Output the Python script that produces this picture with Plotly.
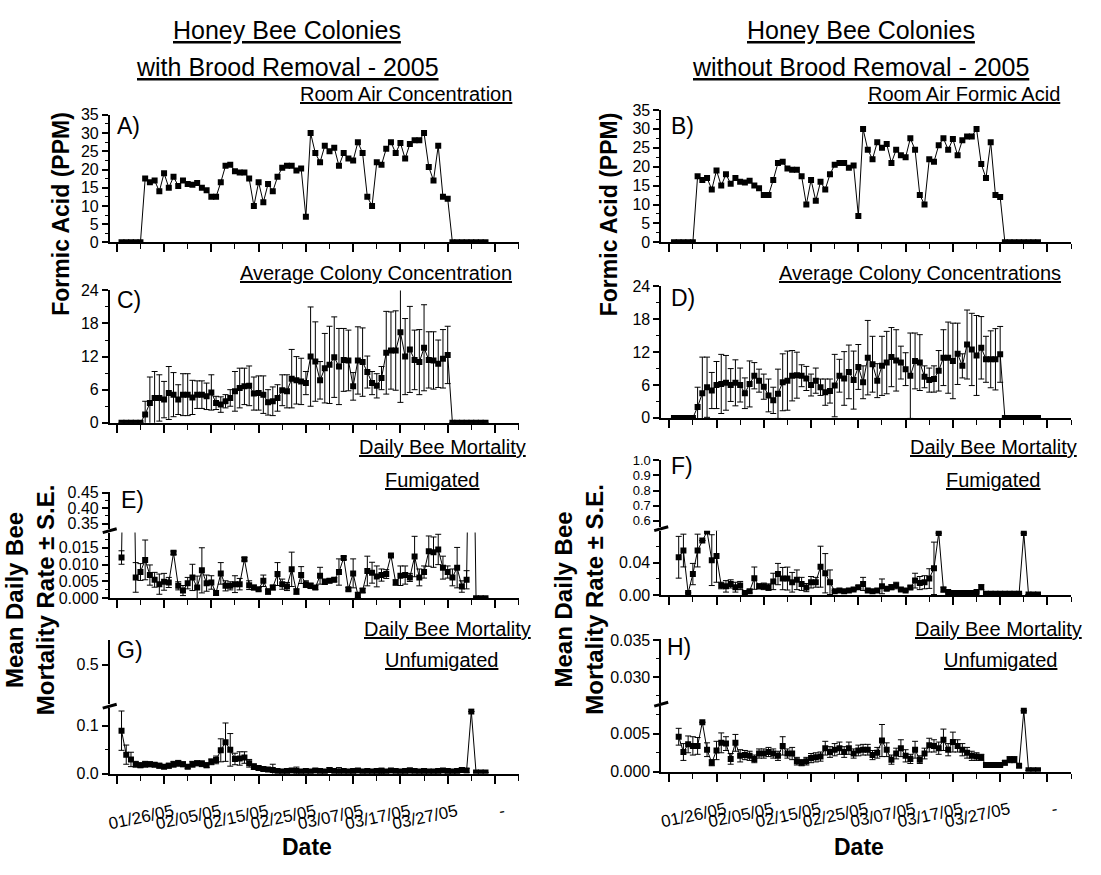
import plotly.graph_objects as go

W, H = 1101, 875
FONT = "Liberation Sans, Arial, sans-serif"

# ---------------- data (x = day number, day 0 = 01/16/05) ----------------
room_air = [0, 0, 0, 0, 0,
            17.5, 16.5, 17, 14, 19, 15, 18, 15.5, 17, 16,
            15.8, 16.3, 15, 14.3, 12.5, 12.5, 16.5, 21, 21.3, 19.5,
            19.2, 19.2, 17.5, 10, 16.5, 11, 16, 14, 18, 20.5,
            21, 21, 19.7, 20.3, 7, 30, 24.5, 22, 26.5, 25,
            26, 21, 24.5, 23, 22.5, 27.5, 24.5, 12.5, 10, 22,
            21.3, 25.7, 27.5, 24.5, 27.3, 23, 27, 28, 28, 30,
            20.7, 17, 26.5, 12.5, 12,
            0, 0, 0, 0, 0, 0, 0, 0]

colony_br = [0, 0, 0, 0, 0,
             1.5, 3.6, 4.5, 4.5, 4.2, 5.4, 5.1, 4.2, 5.1, 5.1,
             4.6, 5.1, 5.1, 4.8, 5.5, 3.6, 3.3, 3.9, 4.5, 5.7,
             6.3, 6.6, 6.7, 5.3, 5.4, 5.1, 3.7, 3.9, 4.5, 5.9,
             5.7, 8.0, 7.7, 7.5, 7.2, 12.0, 11.1, 7.7, 9.9, 10.5,
             11.9, 10.2, 11.4, 11.3, 6.6, 11.3, 11.0, 9.2, 7.2, 6.7,
             8.1, 12.7, 13.1, 13.1, 16.4, 12.0, 13.3, 11.4, 11.0, 13.6,
             11.4, 11.3, 10.7, 11.6, 12.3,
             0, 0, 0, 0, 0, 0, 0, 0]
colony_br_se = [0, 0, 0, 0, 0,
                2.4, 4.7, 4.8, 4.2, 3.3, 4.8, 4.0, 2.7, 3.8, 3.8,
                3.1, 2.5, 2.5, 2.4, 3.2, 1.2, 1.4, 1.2, 1.5, 3.6,
                3.6, 3.3, 3.6, 3.0, 3.1, 3.4, 2.3, 2.6, 2.4, 2.8,
                3.0, 5.3, 4.3, 4.2, 2.1, 9.0, 7.2, 3.4, 6.3, 7.0,
                7.3, 6.9, 5.7, 5.5, 2.5, 6.1, 6.2, 2.9, 2.1, 2.2,
                2.1, 7.5, 7.0, 7.2, 12.7, 6.9, 7.8, 5.4, 5.9, 7.8,
                5.1, 5.2, 4.3, 5.3, 5.2,
                0, 0, 0, 0, 0, 0, 0, 0]

colony_nb = [0, 0, 0, 0, 0,
             2.0, 4.5, 5.6, 5.0, 6.0, 6.2, 6.4, 6.0, 6.4, 6.0,
             4.5, 6.2, 7.7, 6.8, 5.7, 4.1, 3.2, 4.4, 6.5, 6.8,
             7.7, 7.8, 7.7, 7.2, 6.0, 6.8, 5.6, 4.7, 4.9, 5.9,
             7.7, 7.2, 8.4, 6.9, 9.3, 6.5, 11.0, 9.8, 6.8, 9.5,
             10.1, 11.1, 10.5, 10.1, 8.9, 7.7, 10.4, 10.1, 7.5, 6.9,
             7.1, 8.6, 11.0, 11.0, 10.4, 11.7, 9.5, 13.4, 12.5, 11.4,
             12.8, 10.7, 10.7, 10.7, 11.6,
             0, 0, 0, 0, 0, 0, 0, 0]
colony_nb_se = [0, 0, 0, 0, 0,
                3.6, 6.6, 5.5, 3.3, 4.3, 5.4, 5.0, 3.0, 4.2, 3.1,
                2.8, 4.2, 2.4, 2.1, 2.3, 3.0, 2.4, 4.5, 5.2, 5.4,
                4.6, 4.2, 2.0, 2.2, 2.0, 2.3, 1.5, 2.4, 2.2, 5.7,
                3.0, 4.9, 4.9, 5.3, 4.1, 3.0, 6.8, 5.1, 3.1, 5.4,
                5.7, 5.4, 5.6, 3.0, 3.0, 7.8, 5.1, 5.1, 2.0, 2.2,
                2.4, 3.7, 5.1, 6.5, 6.9, 5.6, 2.2, 6.3, 6.6, 7.3,
                5.7, 4.2, 5.2, 5.6, 5.1,
                0, 0, 0, 0, 0, 0, 0, 0]

# mortality, brood removal, fumigated (from day 1)
mort_br_fum = [0.0121, 0.1, 0.1, 0.0062, 0.0078, 0.0114, 0.0069, 0.0055, 0.0042, 0.0049,
               0.0047, 0.0135, 0.0037, 0.0023, 0.0045, 0.0062, 0.0032, 0.0083, 0.0045, 0.0047,
               0.0016, 0.0074, 0.0037, 0.0037, 0.0042, 0.0042, 0.0116, 0.0039, 0.0032, 0.0027,
               0.0052, 0.0020, 0.0032, 0.0072, 0.0042, 0.0035, 0.0086, 0.0020, 0.0069, 0.0042,
               0.0037, 0.0032, 0.0067, 0.0049, 0.0052, 0.0055, 0.0078, 0.0120, 0.0027, 0.0074,
               0.0010, 0.0023, 0.0081, 0.0076, 0.0065, 0.0069, 0.0072, 0.0127, 0.0047, 0.0067,
               0.0069, 0.0062, 0.0124, 0.0062, 0.0078, 0.0140, 0.0137, 0.0145, 0.0091, 0.0078,
               0.0062, 0.0091, 0.0035, 0.0055, 0.1, 0, 0, 0]
mort_br_fum_se = [0.0020, 0, 0, 0.0044, 0.0025, 0.0059, 0.0030, 0.0022, 0.0030, 0.0025,
                  0.0015, 0.0005, 0.0012, 0.0015, 0.0017, 0.0039, 0.0034, 0.0067, 0.0024, 0.0020,
                  0.0007, 0.0032, 0.0015, 0.0012, 0.0025, 0.0017, 0.0005, 0.0013, 0.0007, 0.0005,
                  0.0017, 0.0008, 0.0007, 0.0034, 0.0015, 0.0012, 0.0051, 0.0008, 0.0025, 0.0010,
                  0.0008, 0.0006, 0.0025, 0.0008, 0.0006, 0.0006, 0.0039, 0.0005, 0.0005, 0.0043,
                  0.0008, 0.0006, 0.0044, 0.0031, 0.0031, 0.0018, 0.0013, 0.0003, 0.0008, 0.0029,
                  0.0027, 0.0012, 0.0060, 0.0025, 0.0018, 0.0045, 0.0045, 0.0045, 0.0034, 0.0018,
                  0.0025, 0.0060, 0.0017, 0.0027, 0, 0, 0, 0]

# mortality, brood removal, unfumigated (from day 1)
mort_br_unf = [0.090, 0.040, 0.030, 0.020, 0.018, 0.020, 0.020, 0.019, 0.017, 0.015,
               0.017, 0.020, 0.022, 0.020, 0.015, 0.020, 0.022, 0.021, 0.018, 0.025,
               0.029, 0.049, 0.066, 0.050, 0.031, 0.032, 0.034, 0.022, 0.015, 0.012,
               0.010, 0.009, 0.008, 0.006, 0.005, 0.006, 0.007, 0.006, 0.005, 0.006,
               0.005, 0.007, 0.006, 0.005, 0.008, 0.006, 0.005, 0.006, 0.005, 0.006,
               0.007, 0.005, 0.006, 0.005, 0.006, 0.006, 0.005, 0.007, 0.006, 0.005,
               0.006, 0.007, 0.006, 0.005, 0.006, 0.005, 0.005, 0.006, 0.007, 0.006,
               0.005, 0.006, 0.008, 0.007, 0.130, 0.003, 0.003, 0.003]
mort_br_unf_se = [0.041, 0.020, 0.015, 0.006, 0.005, 0.006, 0.005, 0.004, 0.005, 0.004,
                  0.005, 0.006, 0.006, 0.005, 0.004, 0.006, 0.005, 0.006, 0.005, 0.006,
                  0.008, 0.024, 0.040, 0.034, 0.012, 0.014, 0.012, 0.008, 0.006, 0.004,
                  0.004, 0.003, 0.012, 0.003, 0.003, 0.004, 0.003, 0.008, 0.003, 0.003,
                  0.003, 0.004, 0.003, 0.003, 0.005, 0.003, 0.008, 0.003, 0.003, 0.004,
                  0.004, 0.003, 0.003, 0.003, 0.004, 0.006, 0.003, 0.004, 0.003, 0.003,
                  0.004, 0.005, 0.003, 0.003, 0.004, 0.003, 0.003, 0.004, 0.004, 0.004,
                  0.003, 0.004, 0.005, 0.004, 0, 0, 0, 0]

# mortality, no brood removal, fumigated (from day 2)
mort_nb_fum = [0.0465, 0.0547, 0.003, 0.026, 0.0547, 0.067, 0.078, 0.043, 0.048,
               0.012, 0.011, 0.014, 0.010, 0.012, 0.003, 0.005, 0.021, 0.011, 0.011,
               0.010, 0.017, 0.026, 0.0205, 0.0205, 0.016, 0.019, 0.014, 0.0095, 0.016,
               0.016, 0.035, 0.027, 0.016, 0.005, 0.006, 0.005, 0.006, 0.007, 0.010,
               0.014, 0.006, 0.005, 0.006, 0.011, 0.008, 0.010, 0.012, 0.007, 0.006,
               0.0095, 0.018, 0.015, 0.016, 0.0205, 0.033, 0.076, 0.007, 0.004, 0.003,
               0.003, 0.003, 0.003, 0.003, 0.004, 0.010, 0.002, 0.002, 0.002, 0.002,
               0.002, 0.002, 0.002, 0.002, 0.076, 0.001, 0.001, 0.001]
mort_nb_fum_se = [0.0255, 0.020, 0, 0.013, 0.020, 0, 0, 0.031, 0.032,
                  0.004, 0.007, 0.005, 0.006, 0.005, 0.001, 0.002, 0.0136, 0.003, 0.004,
                  0.004, 0.010, 0.013, 0.0136, 0.014, 0.012, 0.012, 0.008, 0.005, 0.007,
                  0.006, 0.025, 0.024, 0.015, 0.001, 0.001, 0.001, 0.001, 0.001, 0.002,
                  0.008, 0.001, 0.001, 0.001, 0.009, 0.002, 0.003, 0.004, 0.001, 0.001,
                  0.002, 0.009, 0.008, 0.008, 0.012, 0.032, 0, 0.003, 0.001, 0.001,
                  0.001, 0.001, 0.001, 0.001, 0.001, 0.003, 0.0005, 0.0005, 0.0005, 0.0005,
                  0.0005, 0.0005, 0.0005, 0.0005, 0, 0, 0, 0]

# mortality, no brood removal, unfumigated (from day 2)
mort_nb_unf = [0.0046, 0.0026, 0.0036, 0.0034, 0.0034, 0.0065, 0.0029, 0.0012, 0.0028,
               0.0038, 0.0037, 0.0017, 0.0038, 0.0021, 0.0022, 0.0021, 0.0017, 0.0024, 0.0024,
               0.0026, 0.0024, 0.0021, 0.0034, 0.0024, 0.0024, 0.0014, 0.0012, 0.0014, 0.0018,
               0.0019, 0.0020, 0.0031, 0.0026, 0.0029, 0.0031, 0.0026, 0.0031, 0.0024, 0.0028,
               0.0029, 0.0029, 0.0022, 0.0025, 0.0041, 0.0029, 0.0016, 0.0024, 0.0031, 0.0021,
               0.0017, 0.0029, 0.0016, 0.0024, 0.0035, 0.0034, 0.0031, 0.0042, 0.0029, 0.0039,
               0.0034, 0.0029, 0.0025, 0.0021, 0.0020, 0.0019, 0.0009, 0.0009, 0.0009, 0.0009,
               0.0012, 0.0016, 0.0016, 0.0008, 0.0080, 0.0002, 0.0002, 0.0002]
mort_nb_unf_se = [0.0011, 0.0011, 0.0011, 0.0012, 0.0011, 0, 0.0009, 0.0004, 0.0012,
                  0.0013, 0.0009, 0.0007, 0.0011, 0.0008, 0.0006, 0.0006, 0.0005, 0.0006, 0.0006,
                  0.0006, 0.0006, 0.0006, 0.0012, 0.0006, 0.0008, 0.0005, 0.0004, 0.0005, 0.0006,
                  0.0006, 0.0006, 0.0009, 0.0007, 0.0008, 0.0008, 0.0007, 0.0008, 0.0006, 0.0007,
                  0.0007, 0.0007, 0.0006, 0.0007, 0.0021, 0.0009, 0.0006, 0.0007, 0.0011, 0.0008,
                  0.0006, 0.0011, 0.0005, 0.0007, 0.0009, 0.0008, 0.0008, 0.0014, 0.0008, 0.0013,
                  0.0008, 0.0008, 0.0007, 0.0006, 0.0005, 0.0004, 0.0002, 0.0002, 0.0002, 0.0002,
                  0.0003, 0.0004, 0.0004, 0.0002, 0, 0, 0, 0]

date_tickvals = [0, 10, 20, 30, 40, 50, 60, 70, 80]
date_ticktext = ["", "01/26/05", "02/05/05", "02/15/05", "02/25/05",
                 "03/07/05", "03/17/05", "03/27/05", "-"]

# ---------------- helpers ----------------
def fx(px):
    return px / W

def fy(py):
    return 1 - py / H

def days(start, vals):
    return list(range(start, start + len(vals)))

fig = go.Figure()

def add_series(xa, ya, x, y, err=None):
    fig.add_trace(go.Scatter(
        x=x, y=y, xaxis=xa, yaxis=ya, mode="lines+markers",
        line=dict(color="black", width=1),
        marker=dict(symbol="square", size=6, color="black"),
        error_y=dict(type="data", array=err if err is not None else [],
                     visible=err is not None, color="black", thickness=1, width=3),
        showlegend=False, hoverinfo="skip"))

# column x-domains (pixels)
COLX = [(107, 517), (660, 1071)]
XRANGE = [[-1.5, 85], [-1.7, 85]]

layout = dict(width=W, height=H, margin=dict(l=0, r=0, t=0, b=0),
              paper_bgcolor="white", plot_bgcolor="white",
              font=dict(family=FONT, color="black"))

def xaxis_def(col, yanchor, bottom_row):
    d = dict(domain=[fx(COLX[col][0]), fx(COLX[col][1])], range=XRANGE[col],
             anchor=yanchor, showline=True, linecolor="black", linewidth=1.5,
             ticks="outside", ticklen=8, tickwidth=1.5, tickcolor="black",
             tickmode="array", tickvals=date_tickvals, showgrid=False, zeroline=False,
             minor=dict(tickmode="array", tickvals=[5, 15, 25, 35, 45, 55, 65, 75, 85],
                        ticks="outside", ticklen=5, tickwidth=1.2, tickcolor="black"))
    if bottom_row:
        d.update(ticktext=date_ticktext, showticklabels=True, tickangle=-12,
                 ticklabelstandoff=12, ticklabelshift=9,
                 tickfont=dict(size=17, family=FONT))
    else:
        d.update(showticklabels=False)
    return d

def yaxis_def(col, xanchor, top, bot, rng, dtick, tick0, fmt, minor_dtick, fsize=16):
    d = dict(domain=[fy(bot), fy(top)], range=rng, anchor=xanchor,
             showline=True, linecolor="black", linewidth=1.5,
             ticks="outside", ticklen=6, tickwidth=1.5, tickcolor="black",
             dtick=dtick, tick0=tick0, tickformat=fmt, showgrid=False, zeroline=False,
             tickfont=dict(size=fsize, family=FONT))
    if minor_dtick:
        d["minor"] = dict(dtick=minor_dtick, tick0=tick0, ticks="outside", ticklen=3,
                          tickwidth=1.2, tickcolor="black")
    return d

# Panel A / B (row 1)
layout["xaxis"] = xaxis_def(0, "y", False)
layout["yaxis"] = yaxis_def(0, "x", 109, 239, [0, 35], 5, 0, "d", 2.5)
layout["xaxis2"] = xaxis_def(1, "y2", False)
layout["yaxis2"] = yaxis_def(1, "x2", 104, 239, [0, 35], 5, 0, "d", 2.5)
# Panel C / D (row 2)
layout["xaxis3"] = xaxis_def(0, "y3", False)
layout["yaxis3"] = yaxis_def(0, "x3", 288, 423, [0, 24], 6, 0, "d", 3)
layout["xaxis4"] = xaxis_def(1, "y4", False)
layout["yaxis4"] = yaxis_def(1, "x4", 284, 418, [0, 24], 6, 0, "d", 3)
# Panel E (row 3, left) - broken axis
layout["xaxis5"] = xaxis_def(0, "y5", False)
layout["yaxis5"] = yaxis_def(0, "x5", 535, 602, [0, 0.0195], 0.005, 0, ".3f", 0.0025)
layout["yaxis9"] = yaxis_def(0, "x5", 494, 531, [0.334, 0.451], 0.05, 0.35, ".2f", 0.025)
# Panel F (row 3, right)
layout["xaxis6"] = xaxis_def(1, "y6", False)
layout["yaxis6"] = yaxis_def(1, "x6", 533, 599, [0, 0.079], 0.04, 0, ".2f", 0.02)
layout["yaxis10"] = yaxis_def(1, "x6", 461, 529, [0.561, 1.001], 0.1, 0.6, ".1f", None, 13)
# Panel G (row 4, left)
layout["xaxis7"] = xaxis_def(0, "y7", True)
layout["yaxis7"] = yaxis_def(0, "x7", 714, 781, [0, 0.137], 0.1, 0, ".1f", 0.05)
layout["yaxis11"] = yaxis_def(0, "x7", 645, 710, [0.416, 0.551], 0.1, 0.5, ".1f", None)
# Panel H (row 4, right)
layout["xaxis8"] = xaxis_def(1, "y8", True)
layout["yaxis8"] = yaxis_def(1, "x8", 712, 779, [0, 0.0086], 0.005, 0, ".3f", 0.0025)
layout["yaxis12"] = yaxis_def(1, "x8", 644, 709, [0.0265, 0.0351], 0.005, 0.03, ".3f", 0.0025)

fig.update_layout(**layout)

# traces
add_series("x", "y", days(1, room_air), room_air)
add_series("x2", "y2", days(1, room_air), room_air)
add_series("x3", "y3", days(1, colony_br), colony_br, colony_br_se)
add_series("x4", "y4", days(1, colony_nb), colony_nb, colony_nb_se)
for ya in ("y5", "y9"):
    add_series("x5", ya, days(1, mort_br_fum), mort_br_fum, mort_br_fum_se)
for ya in ("y6", "y10"):
    add_series("x6", ya, days(2, mort_nb_fum), mort_nb_fum, mort_nb_fum_se)
for ya in ("y7", "y11"):
    add_series("x7", ya, days(1, mort_br_unf), mort_br_unf, mort_br_unf_se)
for ya in ("y8", "y12"):
    add_series("x8", ya, days(2, mort_nb_unf), mort_nb_unf, mort_nb_unf_se)

# ---------------- annotations ----------------
ann = []

def text(px, py, s, size, xanchor="center", bold=False, angle=0, underline=False):
    t = s
    if underline:
        t = "<u>" + t + "</u>"
    if bold:
        t = "<b>" + t + "</b>"
    ann.append(dict(x=fx(px), y=fy(py), xref="paper", yref="paper", text=t,
                    showarrow=False, xanchor=xanchor, yanchor="middle",
                    textangle=angle, font=dict(size=size, family=FONT, color="black")))

# main titles
text(285, 22, "Honey Bee Colonies", 25, underline=True)
text(285, 60, "with Brood Removal - 2005", 25, underline=True)
text(860, 22, "Honey Bee Colonies", 25, underline=True)
text(860, 60, "without Brood Removal - 2005", 25, underline=True)

# panel subtitles
text(512, 88, "Room Air Concentration", 20, xanchor="right", underline=True)
text(1062, 88, "Room Air Formic Acid", 20, xanchor="right", underline=True)
text(512, 270, "Average Colony Concentration", 20, xanchor="right", underline=True)
text(1063, 270, "Average Colony Concentrations", 20, xanchor="right", underline=True)
text(441, 448, "Daily Bee Mortality", 20, underline=True)
text(431, 481, "Fumigated", 20, underline=True)
text(993, 448, "Daily Bee Mortality", 20, underline=True)
text(993, 481, "Fumigated", 20, underline=True)
text(446, 633, "Daily Bee Mortality", 20, underline=True)
text(440, 665, "Unfumigated", 20, underline=True)
text(998, 633, "Daily Bee Mortality", 20, underline=True)
text(1000, 665, "Unfumigated", 20, underline=True)

# panel letters
for (px, py, s) in [(112, 120, "A)"), (668, 120, "B)"), (112, 298, "C)"), (668, 296, "D)"),
                    (116, 502, "E)"), (668, 467, "F)"), (112, 655, "G)"), (664, 652, "H)")]:
    text(px, py, s, 23, xanchor="left")

# axis titles
text(58, 210, "Formic Acid (PPM)", 23, bold=True, angle=-90)
text(608, 210, "Formic Acid (PPM)", 23, bold=True, angle=-90)
text(27, 603, "Mean Daily Bee<br>Mortality Rate ± S.E.", 24, bold=True, angle=-90)
text(578, 603, "Mean Daily Bee<br>Mortality Rate ± S.E.", 24, bold=True, angle=-90)
text(305, 856, "Date", 23, bold=True)
text(858, 856, "Date", 23, bold=True)

# axis break marks
shapes = []
for (bx, by) in [(107, 533), (660, 531), (107, 712), (660, 710)]:
    shapes.append(dict(type="line", xref="paper", yref="paper",
                       x0=fx(bx - 7), y0=fy(by + 2), x1=fx(bx + 7), y1=fy(by - 2),
                       line=dict(color="black", width=3)))

fig.update_layout(annotations=ann, shapes=shapes)
fig.write_html("out.html")
